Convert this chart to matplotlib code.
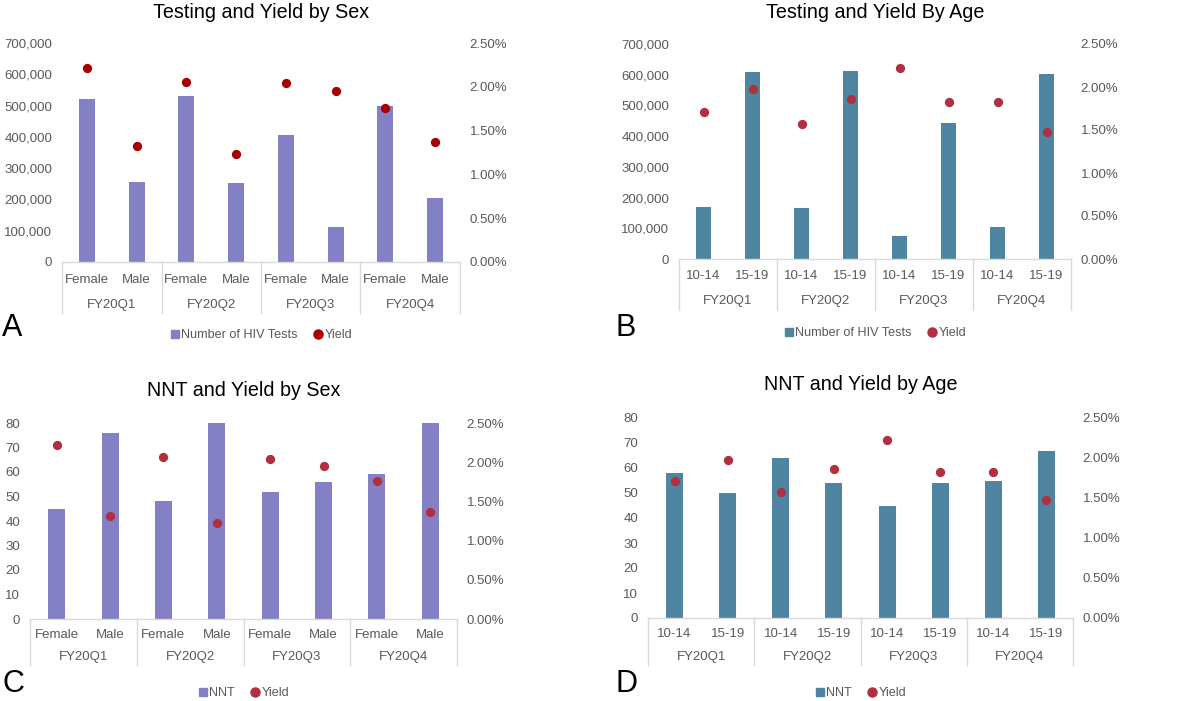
import numpy as np
import matplotlib
matplotlib.use("Agg")
import matplotlib.pyplot as plt
from matplotlib.lines import Line2D
from matplotlib.ticker import FuncFormatter

plt.rcParams['font.family'] = ['Liberation Sans', 'DejaVu Sans']

quarters = ["FY20Q1", "FY20Q2", "FY20Q3", "FY20Q4"]
sex_groups = ["Female", "Male"]
age_groups = ["10-14", "15-19"]

# values in order Q1 first, Q1 second, Q2 first, ...
tests_by_sex = [521000, 256000, 529000, 252000, 406000, 113000, 500000, 206000]
yield_by_sex = [2.22, 1.32, 2.06, 1.23, 2.04, 1.95, 1.76, 1.37]
nnt_by_sex = [45, 76, 48, 80, 52, 56, 59, 80]

tests_by_age = [168000, 609000, 166000, 613000, 74000, 444000, 103000, 603000]
yield_by_age = [1.71, 1.98, 1.57, 1.86, 2.22, 1.83, 1.82, 1.48]
nnt_by_age = [58, 50, 64, 54, 45, 54, 55, 67]

PURPLE = "#8480C6"
TEAL = "#4F85A0"
RED_A = "#A80000"
RED_B = "#B03040"
GRAY = "#595959"
LINE = "#D9D9D9"
FS = 9.5


def draw_panel(rect, title, bars, yields, groups, bar_color, dot_color,
               ymax, ystep, bar_label, letter, letter_x, fmt_thousands,
               title_y, legend_y, letter_y):
    ax = fig.add_axes(rect)
    x = np.arange(len(bars))
    ax.bar(x, bars, width=0.32, color=bar_color, zorder=2)
    ax.set_xlim(-0.5, len(bars) - 0.5)
    ax.set_ylim(0, ymax)
    ax.set_yticks(np.arange(0, ymax + 1, ystep))
    if fmt_thousands:
        ax.yaxis.set_major_formatter(FuncFormatter(lambda v, p: f"{int(v):,}"))
    ax.tick_params(axis='y', length=0, labelsize=FS, colors=GRAY, pad=7)
    ax.set_xticks([])
    for s in ['top', 'right', 'left']:
        ax.spines[s].set_visible(False)
    ax.spines['bottom'].set_color(LINE)
    ax.spines['bottom'].set_linewidth(1)

    ax2 = ax.twinx()
    ax2.scatter(x, yields, s=32, color=dot_color, zorder=3, clip_on=False)
    ax2.set_ylim(0, 2.5)
    ax2.set_yticks(np.arange(0, 2.51, 0.5))
    ax2.yaxis.set_major_formatter(FuncFormatter(lambda v, p: f"{v:.2f}%"))
    ax2.tick_params(axis='y', length=0, labelsize=FS, colors=GRAY, pad=7)
    for s in ['top', 'right', 'left', 'bottom']:
        ax2.spines[s].set_visible(False)

    # hierarchical category axis
    trans = ax.get_xaxis_transform()
    for b in np.arange(-0.5, len(bars), 2):
        ax.plot([b, b], [0, -0.235], transform=trans, color=LINE, lw=1, clip_on=False)
    for i in x:
        ax.text(i, -0.08, groups[i % 2], transform=trans, ha='center', va='center',
                fontsize=FS, color=GRAY)
    for q, name in enumerate(quarters):
        ax.text(2 * q + 0.5, -0.195, name, transform=trans, ha='center', va='center',
                fontsize=FS, color=GRAY)

    cx = rect[0] + rect[2] / 2
    fig.text(cx, title_y, title, ha='center', va='center', fontsize=14.2, color='black')
    handles = [Line2D([], [], marker='s', ls='', color=bar_color, markersize=5.5),
               Line2D([], [], marker='o', ls='', color=dot_color, markersize=6.5)]
    fig.legend(handles, [bar_label, "Yield"], loc='center', bbox_to_anchor=(cx, legend_y),
               ncol=2, frameon=False, fontsize=9.1, handletextpad=0.1, columnspacing=1.2,
               handlelength=0.8, labelcolor=GRAY)
    fig.text(letter_x, letter_y, letter, ha='left', va='center', fontsize=22)
    return ax


fig = plt.figure(figsize=(12, 7.01), dpi=100)
H = 701.0
W = 1200.0


def r(x0, y0, x1, y1):
    return [x0 / W, 1 - y1 / H, (x1 - x0) / W, (y1 - y0) / H]


draw_panel(r(62, 43, 460, 262), "Testing and Yield by Sex", tests_by_sex, yield_by_sex,
           sex_groups, PURPLE, RED_A, 700000, 100000, "Number of HIV Tests", "A", 2 / W,
           True, 1 - 13 / H, 1 - 335 / H, 1 - 328 / H)
draw_panel(r(679, 44, 1071, 259), "Testing and Yield By Age", tests_by_age, yield_by_age,
           age_groups, TEAL, RED_B, 700000, 100000, "Number of HIV Tests", "B", 616 / W,
           True, 1 - 13 / H, 1 - 333 / H, 1 - 328 / H)
draw_panel(r(30, 423, 457, 619), "NNT and Yield by Sex", nnt_by_sex, yield_by_sex,
           sex_groups, PURPLE, RED_B, 80, 10, "NNT", "C", 2 / W,
           False, 1 - 390 / H, 1 - 693 / H, 1 - 684 / H)
draw_panel(r(648, 418, 1073, 618), "NNT and Yield by Age", nnt_by_age, yield_by_age,
           age_groups, TEAL, RED_B, 80, 10, "NNT", "D", 616 / W,
           False, 1 - 384 / H, 1 - 693 / H, 1 - 684 / H)

fig.savefig("out.png", dpi=100, facecolor='white')
